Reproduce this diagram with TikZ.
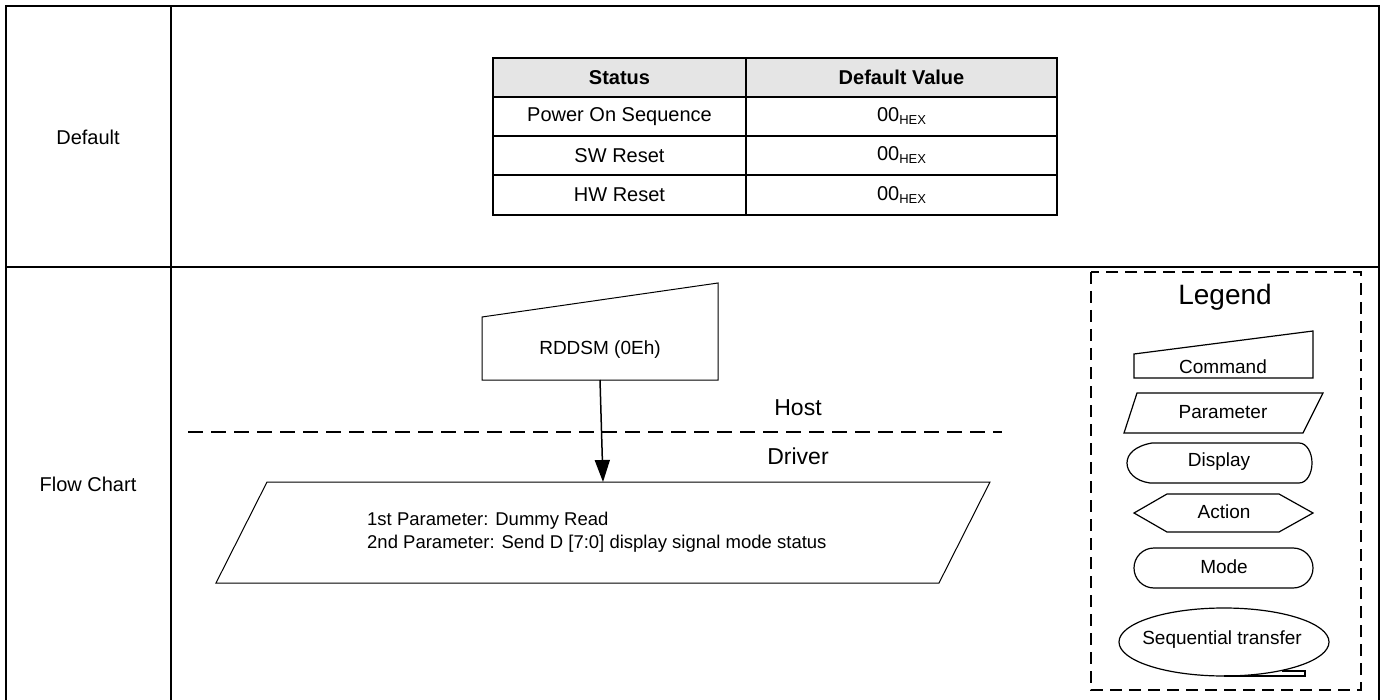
\documentclass[tikz,border=0pt]{standalone}
\usepackage{fontspec}
\setmainfont{Liberation Sans}
\usetikzlibrary{arrows.meta}
\newcommand\hexsub{\raisebox{-3pt}{\fontsize{13}{13}\selectfont HEX}}
\begin{document}
\begin{tikzpicture}[x=1pt,y=-1pt,
  frame/.style={line width=2pt},
  tbl/.style={line width=1.8pt},
  shp/.style={line width=1pt},
  lshp/.style={line width=1.2pt},
  txt/.style={inner sep=0pt, font=\fontsize{19}{23}\selectfont},
  ttxt/.style={inner sep=0pt, font=\fontsize{20}{24}\selectfont},
  hdr/.style={inner sep=0pt, font=\fontsize{20}{24}\selectfont\bfseries},
  hdash/.style={line width=1.5pt, dash pattern=on 15pt off 8pt},
  ldash/.style={line width=1.3pt, dash pattern=on 12pt off 7pt},
  flowarrow/.style={line width=1.5pt, -{Triangle[length=22pt,width=15pt]}}
]
\useasboundingbox (0,0) rectangle (1386,700);
% outer frame
\draw[frame] (6,700) -- (6,6) -- (1379,6) -- (1379,700);
\draw[frame] (171,6) -- (171,700);
\draw[frame] (6,267) -- (1379,267);
\node[ttxt] (ldefault) at (88,137) {Default};
\node[ttxt] (lflow) at (88,484) {Flow Chart};
% table
\fill[gray!20] (493,58) rectangle (1057,97);
\draw[tbl] (493,58) rectangle (1057,215);
\draw[tbl] (746,58) -- (746,215);
\draw[tbl] (493,97) -- (1057,97);
\draw[tbl] (493,136) -- (1057,136);
\draw[tbl] (493,175) -- (1057,175);
\node[hdr] (hs) at (619.5,77.5) {Status};
\node[hdr] (hv) at (901.5,77.5) {Default Value};
\node[ttxt] (r1a) at (619.5,116.5) {Power On Sequence};
\node[ttxt] (r1b) at (901.5,116.5) {00\hexsub};
\node[ttxt] (r2a) at (619.5,155.5) {SW Reset};
\node[ttxt] (r2b) at (901.5,155.5) {00\hexsub};
\node[ttxt] (r3a) at (619.5,195) {HW Reset};
\node[ttxt] (r3b) at (901.5,195) {00\hexsub};
% flow chart
\draw[shp] (482,317) -- (718,283) -- (718,380) -- (482,380) -- cycle;
\node[txt] (cmd) at (600,350) {RDDSM (0Eh)};
\draw[hdash] (188,432) -- (1002,432);
\node[inner sep=0pt, font=\fontsize{23}{27}\selectfont] (host) at (798,408) {Host};
\node[inner sep=0pt, font=\fontsize{23}{27}\selectfont] (drv) at (798,456) {Driver};
\draw[shp] (267,482) -- (990,482) -- (939,583) -- (216,583) -- cycle;
\node[inner sep=0pt, anchor=west, align=left, font=\fontsize{18.5}{23}\selectfont] (par) at (367,532)
  {1st Parameter: Dummy Read\\2nd Parameter: Send D [7:0] display signal mode status};
\coordinate (cmdb) at (600,380);
\coordinate (part) at (603,482);
\draw[flowarrow] (cmdb) -- (part);
% legend
\draw[ldash] (1091,272) rectangle (1361,690);
\node[inner sep=0pt, font=\fontsize{28}{32}\selectfont] (leg) at (1225,297) {Legend};
\draw[lshp] (1134,354) -- (1313,331) -- (1313,378) -- (1134,378) -- cycle;
\node[txt] (lcmd) at (1223,367) {Command};
\draw[lshp] (1137,393) -- (1323,393) -- (1303,433) -- (1124,433) -- cycle;
\node[txt] (lpar) at (1223,412) {Parameter};
\draw[lshp] (1152,443) -- (1299,443) .. controls (1307,443) and (1312,453) .. (1312,463)
  .. controls (1312,473) and (1307,483) .. (1299,483) -- (1150,483)
  .. controls (1135,481) and (1127,472) .. (1127,463)
  .. controls (1127,454) and (1135,446) .. (1152,443) -- cycle;
\node[txt] (ldisp) at (1219,462) {Display};
\draw[lshp] (1134,513) -- (1167,494) -- (1279,494) -- (1313,513) -- (1279,532) -- (1167,532) -- cycle;
\node[txt] (lact) at (1224,512) {Action};
\draw[lshp, rounded corners=20pt] (1134,548) rectangle (1313,588);
\node[txt] (lmode) at (1224,567) {Mode};
\draw[lshp] (1224,642) ellipse [x radius=105, y radius=34];
\draw[lshp] (1224,676) -- (1305,676) -- (1305,671) -- (1282,671);
\node[txt] (lseq) at (1222,640) {Sequential transfer};
\end{tikzpicture}
\end{document}
